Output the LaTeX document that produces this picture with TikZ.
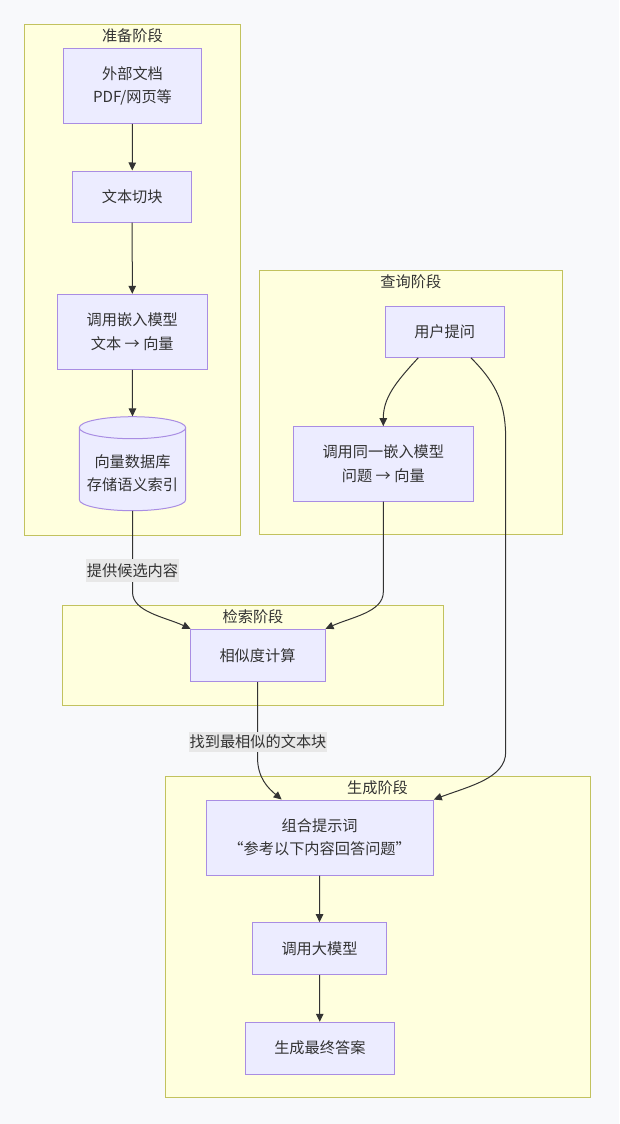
\documentclass[tikz,border=0pt]{standalone}
\usepackage{fontspec}
\setmainfont{Noto Sans CJK SC}
\usetikzlibrary{arrows.meta,fit,calc}
\definecolor{bgc}{HTML}{F8F9FB}
\definecolor{clfill}{HTML}{FFFFDE}
\definecolor{clstroke}{HTML}{C2C25E}
\definecolor{ndfill}{HTML}{ECECFF}
\definecolor{ndstroke}{HTML}{A98DE3}
\definecolor{txt}{HTML}{333333}
\definecolor{lblfill}{HTML}{E8E8E8}
\begin{document}
\begin{tikzpicture}[x=0.75pt,y=-0.75pt,
  cluster/.style={draw=clstroke,fill=clfill,line width=0.75pt,inner sep=0pt},
  ttl/.style={text=txt,inner sep=0pt,font=\fontsize{11.4}{17.5}\selectfont},
  box/.style={draw=ndstroke,fill=ndfill,line width=0.75pt,inner sep=0pt},
  plain/.style={inner sep=0pt,align=center,text=txt,font=\fontsize{11.4}{17.5}\selectfont},
  lbl/.style={fill=lblfill,inner sep=0pt},
  edge/.style={draw=txt,line width=0.75pt,-{Triangle[length=6pt,width=5.6pt]}}]
\fill[bgc] (0,0) rectangle (619,1124);
\useasboundingbox (0,0) rectangle (619,1124);
% clusters
\node[cluster,fit={(24,24.7)(240.7,535)}] (c1) {};
\node[ttl] (t1) at (132.4,35.5) {准备阶段};
\node[cluster,fit={(259.3,270)(562.3,534)}] (c2) {};
\node[ttl] (t2) at (410.8,281.5) {查询阶段};
\node[cluster,fit={(62.7,605.7)(443.3,705)}] (c3) {};
\node[ttl] (t3) at (253,616.7) {检索阶段};
\node[cluster,fit={(165,776)(590,1097.7)}] (c4) {};
\node[ttl] (t4) at (377.5,788) {生成阶段};
% nodes
\node[box,fit={(63.3,48.3)(201.7,123.3)}] (doc) {};
\node[plain] at (doc.center) {外部文档\\PDF/网页等};
\node[box,fit={(72.7,171)(191.7,222)}] (chunk) {};
\node[plain] at (chunk.center) {文本切块};
\node[box,fit={(57.3,294.3)(207.3,369.3)}] (emb) {};
\node[plain] at (emb.center) {调用嵌入模型\\文本 → 向量};
\path[fill=ndfill,draw=ndstroke,line width=0.75pt] (79.3,427.7) -- (79.3,499.7)
  arc[start angle=180,end angle=360,x radius=39.9pt,y radius=8.25pt] -- (185.7,427.7)
  arc[start angle=0,end angle=180,x radius=39.9pt,y radius=8.25pt] -- cycle;
\draw[draw=ndstroke,line width=0.75pt] (79.3,427.7) arc[start angle=180,end angle=360,x radius=39.9pt,y radius=8.25pt];
\node[inner sep=0pt,fit={(79.3,416.7)(185.7,510.7)}] (db) {};
\node[plain] at (132.5,473.5) {向量数据库\\存储语义索引};
\node[box,fit={(385,306)(504.3,357.3)}] (q1) {};
\node[plain] at (q1.center) {用户提问};
\node[box,fit={(293.3,426.7)(473.3,501)}] (qe) {};
\node[plain] at (qe.center) {调用同一嵌入模型\\问题 → 向量};
\node[box,fit={(190,629.3)(325,681.7)}] (sim) {};
\node[plain] at (sim.center) {相似度计算};
\node[box,fit={(206,800)(433.3,875)}] (comb) {};
\node[plain] at (comb.center) {组合提示词\\“参考以下内容回答问题”};
\node[box,fit={(252.3,922.7)(386.7,974.3)}] (llm) {};
\node[plain] at (llm.center) {调用大模型};
\node[box,fit={(245,1022.3)(394.7,1074)}] (ans) {};
\node[plain] at (ans.center) {生成最终答案};
% edges
\draw[edge] (doc) -- (chunk);
\draw[edge] (chunk) -- (emb);
\draw[edge] (emb.south) -- (db.north);
\draw[edge] (comb) -- (llm);
\draw[edge] (llm) -- (ans);
\draw[edge] ($(q1.south)+(-26.4,0)$) .. controls (395,383) and (383.3,398) .. (qe.north);
\draw[edge] ($(q1.south)+(26.3,0)$) .. controls (498,385) and (505.7,405) .. (505.7,440) -- (505.7,752) .. controls (505.7,778) and (470,786) .. (comb.north east);
\draw[edge] (db.south) -- (132.5,592) .. controls (132.5,612) and (165,617) .. ($(sim.north west)+(1,0)$);
\draw[edge] (qe.south) -- (383.3,592) .. controls (383.3,612) and (352,617) .. (sim.north east);
\draw[edge] (sim.south) -- (257.5,757) .. controls (257.5,778) and (268,788) .. ($(comb.north)+(-38,0)$);
% edge labels
\node[lbl,fit={(86,559.3)(179,581.7)}] (l1) {};
\node[plain] at (l1.center) {提供候选内容};
\node[lbl,fit={(189.3,731.7)(326.7,752.3)}] (l2) {};
\node[plain] at (l2.center) {找到最相似的文本块};
\end{tikzpicture}
\end{document}
